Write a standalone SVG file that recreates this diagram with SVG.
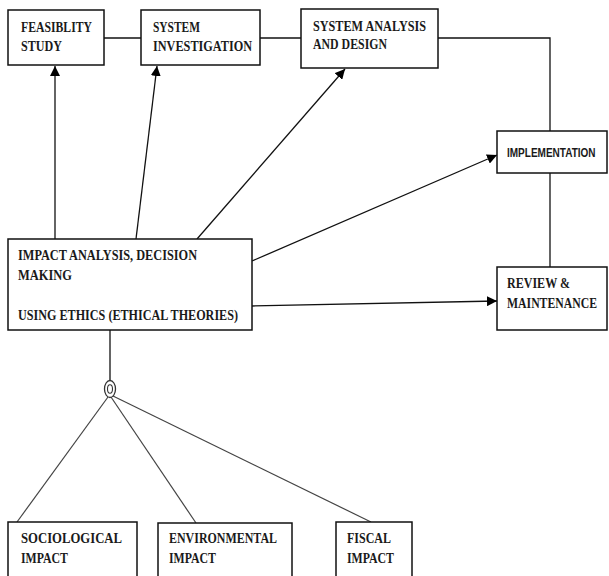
<svg xmlns="http://www.w3.org/2000/svg" width="609" height="576" viewBox="0 0 609 576">
<style>
.box{fill:#fff;stroke:#111;stroke-width:1.5}
.t{font-family:"Liberation Serif","Times New Roman",serif;font-weight:bold;font-size:14.5px;fill:#1a1a1a}
.s{font-family:"Liberation Sans",Arial,sans-serif;font-weight:bold;font-size:13px;fill:#1a1a1a}
.ln{fill:none;stroke:#111;stroke-width:1.3}
.gl{fill:none;stroke:#444;stroke-width:1.2}
</style>
<defs>
<marker id="ah" markerUnits="userSpaceOnUse" markerWidth="12" markerHeight="10" refX="10" refY="5" orient="auto">
<path d="M0,0 L10,5 L0,10 z" fill="#000"/>
</marker>
</defs>
<g id="connectors">
<line class="ln" x1="55" y1="239" x2="55" y2="66" marker-end="url(#ah)"/>
<line class="ln" x1="136" y1="239" x2="157" y2="66" marker-end="url(#ah)"/>
<line class="ln" x1="197" y1="239" x2="345" y2="69" marker-end="url(#ah)"/>
<line class="ln" x1="252" y1="261" x2="497" y2="155" marker-end="url(#ah)"/>
<line class="ln" x1="252" y1="306" x2="497" y2="301" marker-end="url(#ah)"/>
<line class="ln" x1="104" y1="38" x2="141" y2="38"/>
<line class="ln" x1="260" y1="38" x2="301" y2="38"/>
<polyline class="ln" points="438,38 550,38 550,131"/>
<line class="ln" x1="550" y1="173" x2="550" y2="267"/>
<line class="ln" x1="110" y1="330" x2="110" y2="381"/>
<line class="gl" x1="108" y1="397" x2="17" y2="522"/>
<line class="gl" x1="111" y1="397" x2="196" y2="523"/>
<line class="gl" x1="113" y1="396" x2="371" y2="522"/>
</g>
<g id="junction">
<ellipse cx="110" cy="389" rx="5.5" ry="8.5" fill="#fff" stroke="#333" stroke-width="1.3"/>
<ellipse cx="110" cy="389" rx="2.5" ry="4.2" fill="none" stroke="#333" stroke-width="1.1"/>
</g>
<g id="feasibility">
<rect class="box" x="8" y="10" width="96" height="55"/>
<text class="t" x="21" y="32" textLength="71" lengthAdjust="spacingAndGlyphs">FEASIBLITY</text>
<text class="t" x="21" y="51" textLength="41" lengthAdjust="spacingAndGlyphs">STUDY</text>
</g>
<g id="investigation">
<rect class="box" x="141" y="10" width="119" height="55"/>
<text class="t" x="153" y="32" textLength="47" lengthAdjust="spacingAndGlyphs">SYSTEM</text>
<text class="t" x="153" y="51" textLength="99" lengthAdjust="spacingAndGlyphs">INVESTIGATION</text>
</g>
<g id="analysis">
<rect class="box" x="301" y="9" width="137" height="59"/>
<text class="t" x="313" y="31" textLength="113" lengthAdjust="spacingAndGlyphs">SYSTEM ANALYSIS</text>
<text class="t" x="313" y="49" textLength="74" lengthAdjust="spacingAndGlyphs">AND DESIGN</text>
</g>
<g id="implementation">
<rect class="box" x="497" y="131" width="110" height="42"/>
<text class="s" transform="translate(507,157) scale(0.77,1)">IMPLEMENTATION</text>
</g>
<g id="review">
<rect class="box" x="497" y="267" width="110" height="63"/>
<text class="t" x="507" y="288" textLength="63" lengthAdjust="spacingAndGlyphs">REVIEW &amp;</text>
<text class="t" transform="translate(507,308) scale(0.81,1)">MAINTENANCE</text>
</g>
<g id="impact">
<rect class="box" x="8" y="239" width="244" height="91"/>
<text class="t" x="18" y="260" textLength="179" lengthAdjust="spacingAndGlyphs">IMPACT ANALYSIS, DECISION</text>
<text class="t" x="18" y="280" textLength="54" lengthAdjust="spacingAndGlyphs">MAKING</text>
<text class="t" x="18" y="320" textLength="220" lengthAdjust="spacingAndGlyphs">USING ETHICS (ETHICAL THEORIES)</text>
</g>
<g id="sociological">
<rect class="box" x="8" y="522" width="129" height="60"/>
<text class="t" x="21" y="543" textLength="101" lengthAdjust="spacingAndGlyphs">SOCIOLOGICAL</text>
<text class="t" x="21" y="563" textLength="47" lengthAdjust="spacingAndGlyphs">IMPACT</text>
</g>
<g id="environmental">
<rect class="box" x="158" y="523" width="134" height="60"/>
<text class="t" x="169" y="543" textLength="108" lengthAdjust="spacingAndGlyphs">ENVIRONMENTAL</text>
<text class="t" x="169" y="563" textLength="47" lengthAdjust="spacingAndGlyphs">IMPACT</text>
</g>
<g id="fiscal">
<rect class="box" x="336" y="522" width="76" height="60"/>
<text class="t" x="347" y="543" textLength="44" lengthAdjust="spacingAndGlyphs">FISCAL</text>
<text class="t" x="347" y="563" textLength="47" lengthAdjust="spacingAndGlyphs">IMPACT</text>
</g>
</svg>
